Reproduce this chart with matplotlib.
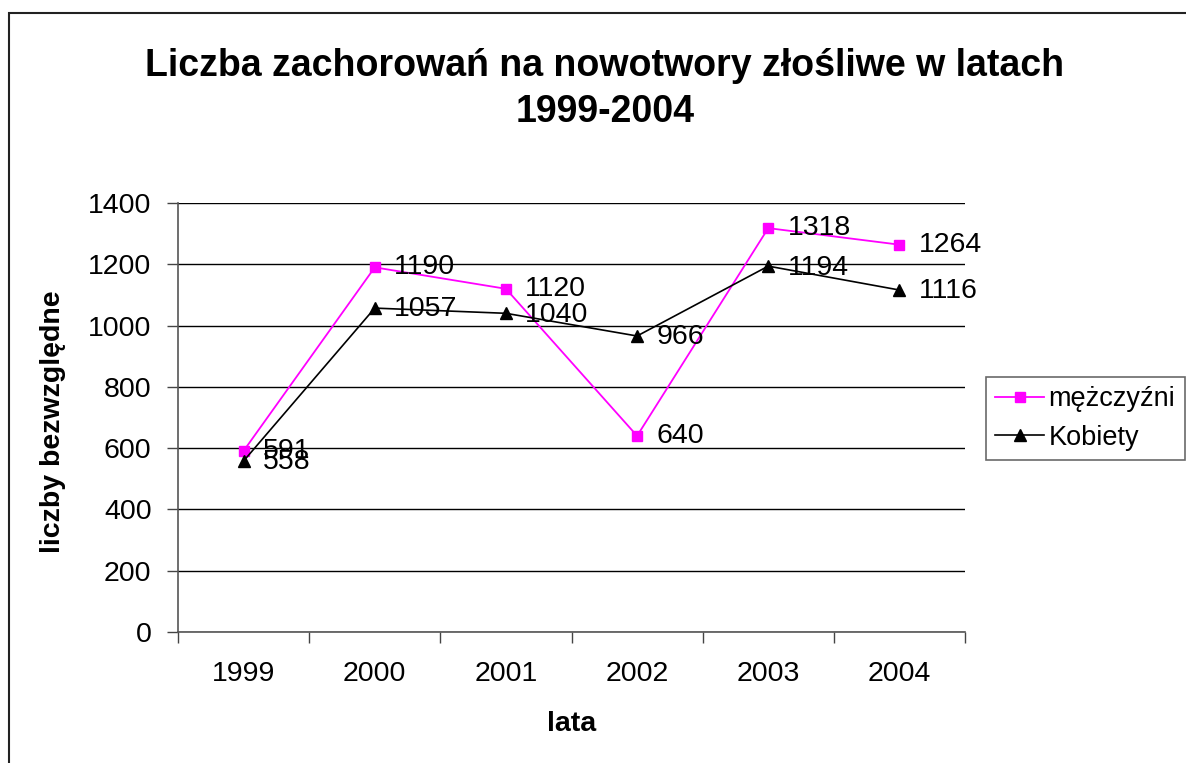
import matplotlib
matplotlib.use("Agg")
import matplotlib.pyplot as plt
from matplotlib.patches import Rectangle

plt.rcParams['font.family'] = ['Liberation Sans', 'DejaVu Sans']

years = ['1999', '2000', '2001', '2002', '2003', '2004']
men = [591, 1190, 1120, 640, 1318, 1264]
women = [558, 1057, 1040, 966, 1194, 1116]
yticks = [0, 200, 400, 600, 800, 1000, 1200, 1400]

W, H = 1186, 763
FS = 20.5
fig = plt.figure(figsize=(W / 100, H / 100), dpi=100)
fig.patches.append(Rectangle((9 / W, -0.1), 2, 1.1 - 13 / H, transform=fig.transFigure,
                             fill=False, edgecolor='#222222', linewidth=1.5))

ax = fig.add_axes([178 / W, 1 - 632 / H, (965 - 178) / W, (632 - 203) / H])
x = list(range(len(years)))

lm, = ax.plot(x, men, color='#FF00FF', marker='s', markersize=7, linewidth=1.3,
              label='mężczyźni', zorder=3)
lw, = ax.plot(x, women, color='black', marker='^', markersize=8, linewidth=1.2,
              label='Kobiety', zorder=3)

for xi, v in zip(x, men):
    ax.annotate(str(v), (xi, v), xytext=(14, 0), textcoords='offset points',
                va='center', ha='left', fontsize=FS, zorder=4)
for xi, v in zip(x, women):
    ax.annotate(str(v), (xi, v), xytext=(14, -1), textcoords='offset points',
                va='center', ha='left', fontsize=FS, zorder=4)

ax.set_xlim(-0.5, len(years) - 0.5)
ax.set_ylim(0, 1400)
ax.set_yticks(yticks)
ax.set_yticklabels([str(t) for t in yticks], fontsize=FS)
ax.yaxis.grid(True, color='black', linewidth=1)
ax.set_axisbelow(True)

ax.set_xticks(x)
ax.set_xticklabels(years, fontsize=FS)
ax.set_xticks([i - 0.5 for i in range(len(years) + 1)], minor=True)
ax.tick_params(axis='x', which='major', length=0, pad=21)
ax.tick_params(axis='x', which='minor', length=8, width=1, color='#444444', direction='out')
ax.tick_params(axis='y', length=8, width=1, color='#444444', direction='out', pad=11)

for s in ['top', 'right']:
    ax.spines[s].set_visible(False)
for s in ['left', 'bottom']:
    ax.spines[s].set_color('#555555')
    ax.spines[s].set_linewidth(1.2)

fig.text(572 / W, 1 - 724 / H, 'lata', ha='center', va='center',
         fontsize=FS, fontweight='bold')
fig.text(53 / W, 1 - 422 / H, 'liczby bezwzględne', ha='center', va='center',
         rotation=90, fontsize=FS, fontweight='bold')

fig.text(605 / W, 1 - 76 / H, 'Liczba zachorowań na nowotwory złośliwe w latach',
         ha='center', va='baseline', fontsize=27, fontweight='bold')
fig.text(605 / W, 1 - 122 / H, '1999-2004',
         ha='center', va='baseline', fontsize=27, fontweight='bold')

leg = fig.legend(handles=[lm, lw], loc='upper left', bbox_to_anchor=(986 / W, 1 - 377 / H),
                 fontsize=19.5, frameon=True, fancybox=False, edgecolor='#444444',
                 borderpad=0.35, handlelength=1.8, handletextpad=0.15, labelspacing=0.45,
                 borderaxespad=0)
leg.get_frame().set_linewidth(1.2)

fig.savefig('out.png', dpi=100)
